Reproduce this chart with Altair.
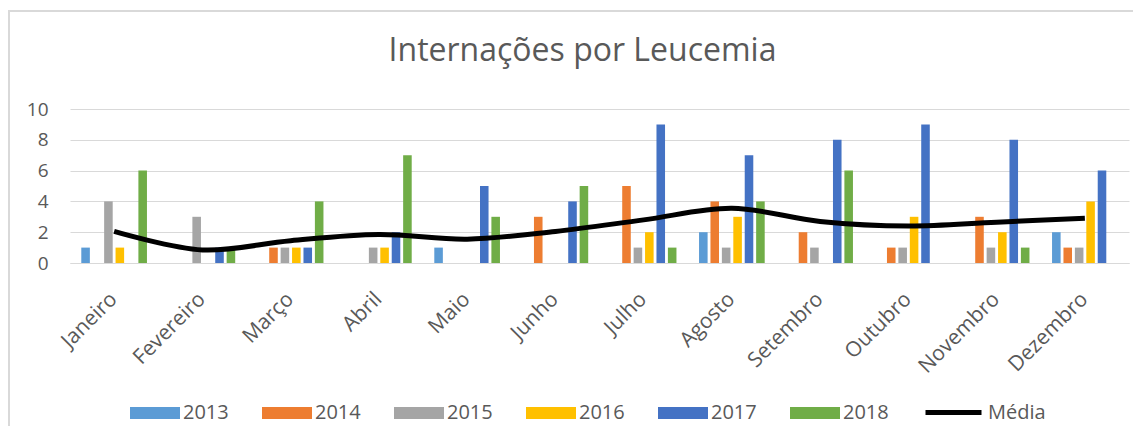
import altair as alt
import pandas as pd

months = ["Janeiro", "Fevereiro", "Março", "Abril", "Maio", "Junho",
          "Julho", "Agosto", "Setembro", "Outubro", "Novembro", "Dezembro"]
years = ["2013", "2014", "2015", "2016", "2017", "2018"]
v2013 = [1, 0, 0, 0, 1, 0, 0, 2, 0, 0, 0, 2]
v2014 = [0, 0, 1, 0, 0, 3, 5, 4, 2, 1, 3, 1]
v2015 = [4, 3, 1, 1, 0, 0, 1, 1, 1, 1, 1, 1]
v2016 = [1, 0, 1, 1, 0, 0, 2, 3, 0, 3, 2, 4]
v2017 = [0, 1, 1, 2, 5, 4, 9, 7, 8, 9, 8, 6]
v2018 = [6, 1, 4, 7, 3, 5, 1, 4, 6, 0, 1, 0]
media = [2.05, 0.85, 1.45, 1.85, 1.55, 2.05, 2.8, 3.55, 2.7, 2.4, 2.65, 2.9]
y_ticks = [0, 2, 4, 6, 8, 10]

year_colors = ["#5B9BD5", "#ED7D31", "#A5A5A5", "#FFC000", "#4472C4", "#70AD47"]

series = [v2013, v2014, v2015, v2016, v2017, v2018]
rows = []
for y, vals in zip(years, series):
    for m, v in zip(months, vals):
        rows.append({"Mês": m, "Ano": y, "Valor": v})
bars_df = pd.DataFrame(rows)
line_df = pd.DataFrame({"Mês": months, "Média": media, "Série": "Média"})

FONT = "Open Sans"
GRAY = "#595959"
GRID = "#D9D9D9"

rect_path = "M-1,-0.24H1V0.24H-1Z"

x_enc = alt.X("Mês:N", sort=months, title=None,
              scale=alt.Scale(paddingInner=0.23, paddingOuter=0.115),
              axis=alt.Axis(labelAngle=-45, labelFontSize=21, labelColor=GRAY,
                            labelFont=FONT, ticks=False, domainColor=GRID,
                            labelPadding=25, labelOffset=-8))

y_axis = alt.Axis(values=y_ticks, tickCount=12, labelFontSize=19, labelColor=GRAY,
                  labelFont=FONT, ticks=False, domain=False, gridColor=GRID,
                  labelPadding=22, labelOverlap=False)

bars = alt.Chart(bars_df).mark_bar().encode(
    x=x_enc,
    xOffset=alt.XOffset("Ano:N", sort=years, scale=alt.Scale(paddingInner=0.25, paddingOuter=0.1)),
    y=alt.Y("Valor:Q", title=None, scale=alt.Scale(domain=[0, 10]), axis=y_axis),
    color=alt.Color("Ano:N", scale=alt.Scale(domain=years, range=year_colors),
                    legend=alt.Legend(title=None, orient="none", direction="horizontal",
                                      legendX=60, legendY=279,
                                      symbolType=rect_path, symbolSize=2500,
                                      symbolStrokeWidth=0, symbolOpacity=1,
                                      labelFontSize=20, labelColor=GRAY, labelFont=FONT,
                                      columnPadding=33, labelOffset=3)),
)

line = alt.Chart(line_df).mark_line(strokeWidth=5, interpolate="catmull-rom").encode(
    x=alt.X("Mês:N", sort=months),
    y=alt.Y("Média:Q", title=None, axis=y_axis),
    stroke=alt.Stroke("Série:N", scale=alt.Scale(domain=["Média"], range=["#000000"]),
                      legend=alt.Legend(title=None, orient="none", direction="horizontal",
                                        legendX=853, legendY=273,
                                        symbolType="stroke", symbolSize=3136,
                                        symbolStrokeWidth=5,
                                        labelFontSize=20, labelColor=GRAY, labelFont=FONT,
                                        labelOffset=4)),
)

frame_data = alt.Data(values=[{}])
border_top = alt.Chart(frame_data).mark_rule(stroke=GRID, strokeWidth=2).encode(
    x=alt.value(-61), x2=alt.value(2000), y=alt.value(-98),
)
border_left = alt.Chart(frame_data).mark_rule(stroke=GRID, strokeWidth=2).encode(
    x=alt.value(-61), y=alt.value(-99), y2=alt.value(400),
)

chart = alt.layer(border_top, border_left, bars, line).properties(
    width=1059, height=154,
    title=alt.TitleParams("Internações por Leucemia", fontSize=32, color=GRAY,
                          font=FONT, fontWeight="normal", anchor="middle",
                          dx=-17, offset=-59),
    autosize=alt.AutoSizeParams(type="none"),
    padding={"left": 62, "top": 101, "right": 4, "bottom": 163},
).configure_view(stroke=None)

chart.save("out.html", embed_options={"renderer": "svg", "actions": False})
